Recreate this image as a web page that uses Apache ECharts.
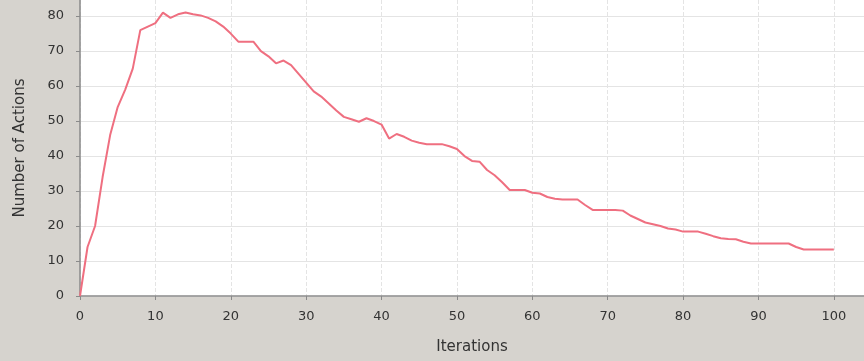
<!DOCTYPE html>
<html>
<head>
<meta charset="utf-8">
<script src="https://cdn.jsdelivr.net/npm/echarts@6/dist/echarts.min.js"></script>
<style>
html,body{margin:0;padding:0;background:#d6d3ce;}
#c{width:864px;height:361px;}
</style>
</head>
<body>
<div id="c"></div>
<script>
var iterations = [];
for (var i = 0; i <= 100; i++) iterations.push(i);
var actions = [
  0, 14, 20, 34, 46, 54, 59, 65, 76, 77,
  78, 81, 79.5, 80.5, 81, 80.5, 80.2, 79.5, 78.5, 77,
  75, 72.7, 72.7, 72.7, 70, 68.5, 66.5, 67.3, 66, 63.5,
  61, 58.5, 57, 55, 53, 51.2, 50.5, 49.8, 50.8, 50,
  49, 45, 46.3, 45.5, 44.4, 43.8, 43.4, 43.4, 43.4, 42.8,
  42, 40, 38.6, 38.4, 36, 34.5, 32.5, 30.3, 30.3, 30.3,
  29.5, 29.3, 28.3, 27.8, 27.6, 27.6, 27.6, 26, 24.6, 24.6,
  24.6, 24.6, 24.4, 23, 22, 21, 20.5, 20, 19.3, 19,
  18.4, 18.4, 18.4, 17.8, 17.1, 16.5, 16.3, 16.2, 15.5, 15,
  15, 15, 15, 15, 15, 14, 13.3, 13.3, 13.3, 13.3, 13.3
];
var xTicks = [0, 10, 20, 30, 40, 50, 60, 70, 80, 90, 100];
var yTicks = [0, 10, 20, 30, 40, 50, 60, 70, 80];
var xTitle = 'Iterations';
var yTitle = 'Number of Actions';

var chart = echarts.init(document.getElementById('c'));
var font = 'DejaVu Sans';
function tenOnly(v) { return (Math.abs(v % 10) < 1e-6) ? String(v) : ''; }
chart.setOption({
  backgroundColor: '#d6d3ce',
  animation: false,
  grid: {left: 80, right: 0, top: 0, bottom: 65, show: true, backgroundColor: '#ffffff', borderWidth: 0},
  xAxis: {
    type: 'value', min: 0, max: 104, interval: 10,
    name: xTitle, nameLocation: 'middle', nameGap: 44,
    nameTextStyle: {color: '#333', fontFamily: font, fontSize: 15},
    axisLine: {show: true, lineStyle: {color: '#8a8a8a', width: 1.5}},
    axisTick: {show: true, length: 4, customValues: xTicks, lineStyle: {color: '#8a8a8a'}},
    axisLabel: {color: '#333', fontFamily: font, fontSize: 13, margin: 14, customValues: xTicks, formatter: tenOnly},
    splitLine: {show: true, lineStyle: {color: '#e4e4e4', type: 'dashed', width: 1}}
  },
  yAxis: {
    type: 'value', min: 0, max: 84.6, interval: 10,
    name: yTitle, nameLocation: 'middle', nameGap: 52, nameRotate: 90,
    nameTextStyle: {color: '#333', fontFamily: font, fontSize: 15},
    axisLine: {show: true, lineStyle: {color: '#8a8a8a', width: 1.5}},
    axisTick: {show: true, length: 4, customValues: yTicks, lineStyle: {color: '#8a8a8a'}},
    axisLabel: {color: '#333', fontFamily: font, fontSize: 13, margin: 16, customValues: yTicks, formatter: tenOnly},
    splitLine: {show: true, lineStyle: {color: '#e4e4e4', type: 'solid', width: 1}}
  },
  series: [{
    type: 'line',
    data: iterations.map(function (x, k) { return [x, actions[k]]; }),
    showSymbol: false,
    lineStyle: {color: '#ef6f80', width: 2},
    itemStyle: {color: '#ef6f80'}
  }]
});
</script>
</body>
</html>
